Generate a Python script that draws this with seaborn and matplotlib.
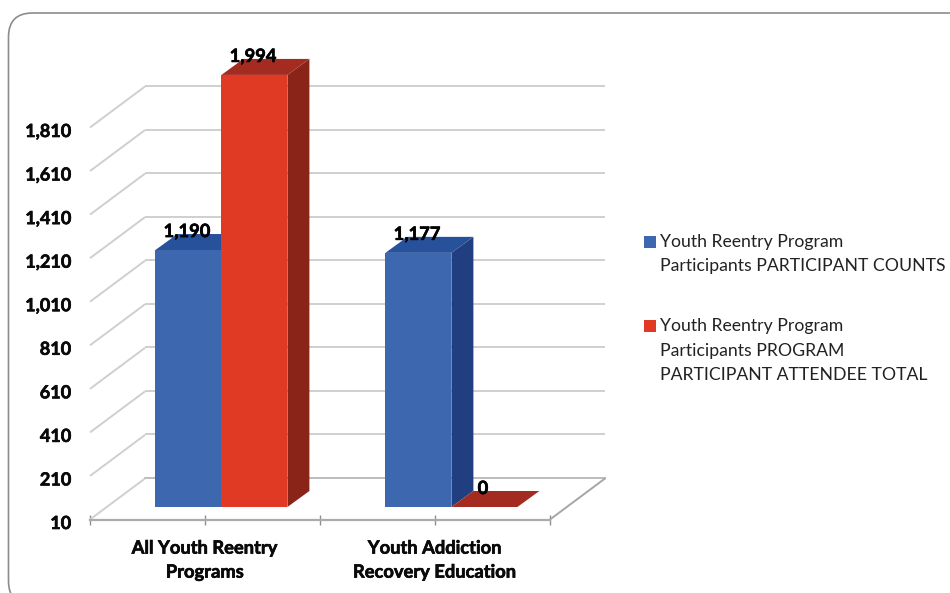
import matplotlib
matplotlib.use("Agg")
import matplotlib.pyplot as plt
import matplotlib.patheffects as pe
import matplotlib.transforms as mtransforms
import pandas as pd
import seaborn as sns
from matplotlib.legend_handler import HandlerPatch
from matplotlib.patches import FancyBboxPatch, Polygon, Rectangle

categories = ["All Youth Reentry\nPrograms", "Youth Addiction\nRecovery Education"]
series_names = ["Youth Reentry Program\nParticipants PARTICIPANT COUNTS",
                "Youth Reentry Program\nParticipants PROGRAM\nPARTICIPANT ATTENDEE TOTAL"]
participant_counts = [1190, 1177]
attendee_totals = [1994, 0]
y_ticks = [10, 210, 410, 610, 810, 1010, 1210, 1410, 1610, 1810]

FACE = ["#3D68B0", "#E03A24"]
SIDE = ["#213F80", "#8A2318"]
TOP = ["#27519B", "#A42B20"]

W, H = 950, 593
PX = 392 / 1800          # pixels per value unit
CAT_PX = 230             # pixels per category
Y_MAX = 2100
HEAVY = [pe.withStroke(linewidth=0.45, foreground="black")]

sns.set_theme(style="white")
plt.rcParams["font.family"] = ["Lato", "DejaVu Sans"]

fig = plt.figure(figsize=(W / 100, H / 100), dpi=100, facecolor="white")


def plane(x0, y_base):
    """Axes of one depth plane: left edge x0 and value 10 at y_base, in pixels."""
    height = (Y_MAX - 10) * PX
    a = fig.add_axes([x0 / W, 1 - y_base / H, 2 * CAT_PX / W, height / H])
    a.set_xlim(-0.5, 1.5)
    a.set_ylim(10, Y_MAX)
    a.patch.set_visible(False)
    for s in a.spines.values():
        s.set_visible(False)
    return a


# rounded card running off the right and bottom of the image
card = FancyBboxPatch((8.5, H - 605), 1000, 592, transform=None,
                      boxstyle="round,pad=0,rounding_size=24",
                      fc="none", ec="#8C8C8C", lw=1.2)
fig.add_artist(card)

# back wall with gridlines
back = plane(145, 478)
back.set_zorder(1)
back.set_xticks([])
back.set_yticks(y_ticks)
back.tick_params(left=False, labelleft=False)
back.grid(axis="y", color="#CFCFCF", lw=1.4)
back.spines["bottom"].set_visible(True)
back.spines["bottom"].set_color("#BDBDBD")
back.spines["bottom"].set_linewidth(1.4)

# front plane carrying the axes ticks and labels
front = plane(90, 519.5)
front.set_zorder(2)
front.set_yticks(y_ticks)
front.set_yticklabels([f"{v:,}" for v in y_ticks], fontweight="bold", fontsize=13, color="#0A0A0A",
                      path_effects=HEAVY)
front.tick_params(axis="y", left=False, pad=7.5)
front.set_xticks([-0.5, 0, 0.5, 1, 1.5])
front.set_xticklabels(["", categories[0], "", categories[1], ""], fontweight="bold",
                      fontsize=13.2, color="#0A0A0A", linespacing=1.5, path_effects=HEAVY)
front.tick_params(axis="x", bottom=True, direction="inout", length=7, width=1, color="#8F8F8F", pad=11)
front.spines["bottom"].set_visible(True)
front.spines["bottom"].set_color("#ABABAB")
front.spines["bottom"].set_linewidth(1.6)
front.set_xlabel("")
front.set_ylabel("")
shift = mtransforms.ScaledTranslation(0, -2.5 / 100, fig.dpi_scale_trans)
for lab in front.get_yticklabels():
    lab.set_transform(lab.get_transform() + shift)

DX_WALL, DY_WALL = 55 / CAT_PX, 41 / PX
for v in y_ticks:
    front.plot([-0.5, -0.5 + DX_WALL], [v, v + DY_WALL], color="#CFCFCF", lw=1.4,
               clip_on=False, solid_capstyle="butt")
front.plot([1.5, 1.5 + DX_WALL], [10, 10 + DY_WALL], color="#A6A6A6", lw=1.4, clip_on=False)

# bars
df = pd.DataFrame({
    "category": categories * 2,
    "series": [series_names[0]] * 2 + [series_names[1]] * 2,
    "value": participant_counts + attendee_totals,
})
ax = plane(106.4, 507)
ax.set_zorder(3)
sns.barplot(data=df, x="category", y="value", hue="series", palette=FACE, saturation=1,
            width=132 / CAT_PX, gap=0, dodge=True, ax=ax, legend=False, linewidth=0)
ax.set_xlim(-0.5, 1.5)
ax.set_ylim(10, Y_MAX)
ax.set_xlabel("")
ax.set_ylabel("")
ax.set_xticks([])
ax.set_yticks([])

DX, DY = 22 / CAT_PX, 16 / PX
for s, container in enumerate(ax.containers):
    for bar in container:
        bar.set_zorder(2)
        x0, x1 = bar.get_x(), bar.get_x() + bar.get_width()
        base, top = 10, max(bar.get_height(), 10)
        z = 1 + s * 0.1
        if top > base:
            ax.add_patch(Polygon([(x1, base), (x1 + DX, base + DY), (x1 + DX, top + DY), (x1, top)],
                                 fc=SIDE[s], ec="none", zorder=z, clip_on=False))
        ax.add_patch(Polygon([(x0, top), (x1, top), (x1 + DX, top + DY), (x0 + DX, top + DY)],
                             fc=TOP[s], ec="none", zorder=z, clip_on=False))
        ax.annotate(f"{int(bar.get_height()):,}", ((x0 + x1) / 2, top), xytext=(-1, 13.3),
                    textcoords="offset points", ha="center", va="center",
                    fontweight="bold", fontsize=13.2, color="black", zorder=6,
                    annotation_clip=False, path_effects=HEAVY)

# legend: swatch sits on the first line of each entry
LINE_PX = 24.7


def first_line_handler(n_lines):
    def make(legend, orig_handle, xdescent, ydescent, width, height, fontsize):
        side = 12 * 0.72
        lift = (n_lines - 1) / 2 * LINE_PX * 0.72
        return Rectangle((-xdescent, -ydescent + (height - side) / 2 + lift), side, side)
    return HandlerPatch(patch_func=make)


handles = [c[0] for c in ax.containers]
leg = fig.legend(handles, series_names, loc="upper left",
                 bbox_to_anchor=(644 / W, 1 - 233.5 / H), bbox_transform=fig.transFigure,
                 frameon=False, fontsize=12.7, handlelength=0.68, handleheight=0.68,
                 handletextpad=0.2, labelspacing=2.5, borderpad=0, borderaxespad=0,
                 handler_map={h: first_line_handler(n.count("\n") + 1)
                              for h, n in zip(handles, series_names)})
for t in leg.get_texts():
    t.set_linespacing(1.66)
    t.set_color("#222222")

fig.savefig("out.png", dpi=100)
